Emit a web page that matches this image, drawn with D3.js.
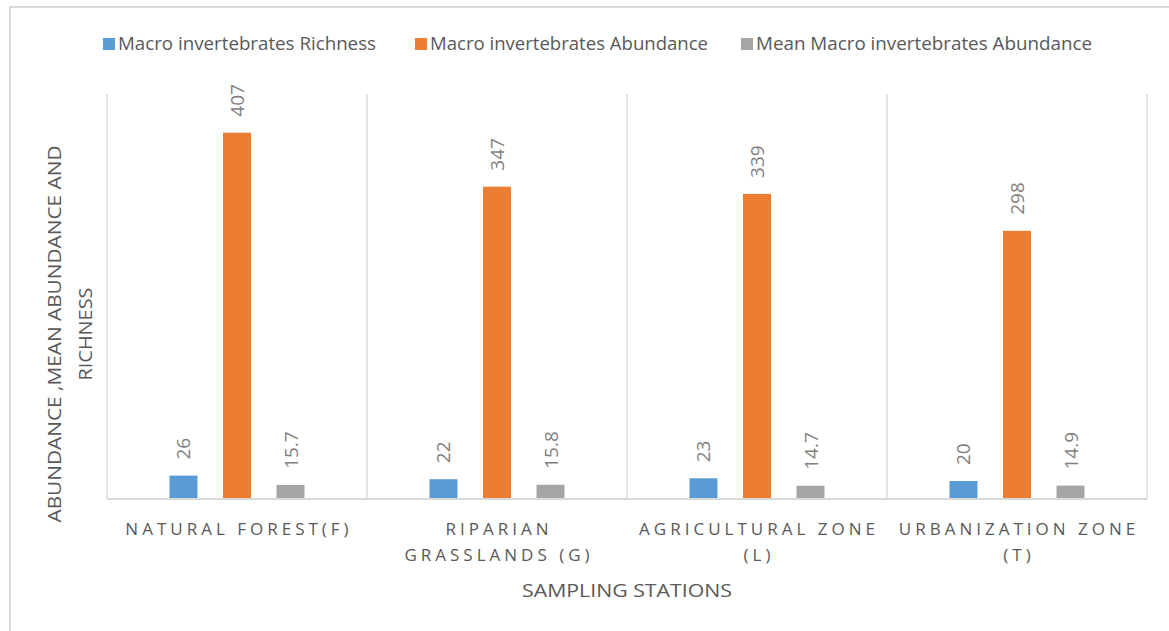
<!DOCTYPE html>
<html>
<head>
<meta charset="utf-8">
<script src="https://cdn.jsdelivr.net/npm/d3@7"></script>
<style>
  body { margin: 0; background: #fff; }
  text { font-family: "Open Sans", "Noto Sans", sans-serif; }
</style>
</head>
<body>
<div id="chart"></div>
<script>
// data
let stations = ["NATURAL FOREST(F)", "RIPARIAN GRASSLANDS (G)", "AGRICULTURAL ZONE (L)", "URBANIZATION ZONE (T)"];
let station_lines = [["NATURAL FOREST(F)"], ["RIPARIAN", "GRASSLANDS (G)"], ["AGRICULTURAL ZONE", "(L)"], ["URBANIZATION ZONE", "(T)"]];
let series_names = ["Macro invertebrates Richness", "Macro invertebrates Abundance", "Mean Macro invertebrates Abundance"];
let richness = [26, 22, 23, 20];
let abundance = [407, 347, 339, 298];
let mean_abundance = [15.7, 15.8, 14.7, 14.9];
let colors = ["#5b9bd5", "#ed7d31", "#a5a5a5"];

let width = 1169, height = 631;
let plot = {left: 107, right: 1147, top: 94, bottom: 499};

let svg = d3.select("#chart").append("svg")
  .attr("width", width)
  .attr("height", height);

// outer chart frame
svg.append("rect")
  .attr("x", 10).attr("y", 7)
  .attr("width", 1300).attr("height", 800)
  .attr("fill", "none")
  .attr("stroke", "#d9d9d9")
  .attr("stroke-width", 2);

let x0 = d3.scaleBand().domain(stations).range([plot.left, plot.right]);
let groupW = 135;
let x1 = d3.scaleBand().domain(series_names).range([0, groupW]).paddingInner(0.477);
let y = d3.scaleLinear().domain([0, 450]).range([plot.bottom, plot.top]);

// vertical separators between categories
let seps = stations.map(s => x0(s)).concat([plot.right]);
svg.selectAll(".sep")
  .data(seps).enter()
  .append("line")
  .attr("x1", d => d).attr("x2", d => d)
  .attr("y1", plot.top).attr("y2", plot.bottom)
  .attr("stroke", "#d9d9d9")
  .attr("stroke-width", 1.5);

// bars
let rows = [];
stations.forEach(function(s, i) {
  rows.push({st: s, ser: series_names[0], v: richness[i], c: colors[0]});
  rows.push({st: s, ser: series_names[1], v: abundance[i], c: colors[1]});
  rows.push({st: s, ser: series_names[2], v: mean_abundance[i], c: colors[2]});
});

function barX(d) {
  return x0(d.st) + (x0.bandwidth() - groupW) / 2 + x1(d.ser);
}

svg.selectAll(".bar")
  .data(rows).enter()
  .append("rect")
  .attr("class", "bar")
  .attr("x", barX)
  .attr("width", x1.bandwidth())
  .attr("y", d => y(d.v))
  .attr("height", d => y(0) - y(d.v))
  .attr("fill", d => d.c);

// data labels, rotated
svg.selectAll(".lbl")
  .data(rows).enter()
  .append("text")
  .attr("transform", d => "translate(" + (barX(d) + x1.bandwidth() / 2 + 7) + "," + (y(d.v) - 16) + ") rotate(-90)")
  .attr("font-size", 19)
  .attr("fill", "#7f7f7f")
  .text(d => d.v);

// baseline
svg.append("line")
  .attr("x1", plot.left).attr("x2", plot.right)
  .attr("y1", plot.bottom).attr("y2", plot.bottom)
  .attr("stroke", "#d9d9d9")
  .attr("stroke-width", 2);

// category labels
let catG = svg.selectAll(".cat")
  .data(stations).enter()
  .append("text")
  .attr("text-anchor", "middle")
  .attr("font-size", 17)
  .attr("fill", "#595959")
  .style("letter-spacing", "4px");
catG.each(function(s, i) {
  let t = d3.select(this);
  station_lines[i].forEach(function(line, j) {
    t.append("tspan")
      .attr("x", x0(s) + x0.bandwidth() / 2 + 2)
      .attr("y", 535 + j * 26)
      .text(line);
  });
});

// axis titles
svg.append("text")
  .attr("x", (plot.left + plot.right) / 2)
  .attr("y", 597)
  .attr("text-anchor", "middle")
  .attr("font-size", 18)
  .attr("fill", "#595959")
  .attr("textLength", 210)
  .attr("lengthAdjust", "spacingAndGlyphs")
  .text("SAMPLING STATIONS");

let yt = [["ABUNDANCE ,MEAN ABUNDANCE AND", 61, 377], ["RICHNESS", 92, 93]];
yt.forEach(function(r) {
  svg.append("text")
    .attr("transform", "translate(" + r[1] + ",334) rotate(-90)")
    .attr("text-anchor", "middle")
    .attr("font-size", 19)
    .attr("fill", "#595959")
    .attr("textLength", r[2])
    .attr("lengthAdjust", "spacingAndGlyphs")
    .text(r[0]);
});

// legend
let legendX = [103, 415, 741];
let legendW = [258, 278, 336];
let leg = svg.selectAll(".leg")
  .data(series_names).enter()
  .append("g")
  .attr("transform", (d, i) => "translate(" + legendX[i] + ",38)");
leg.append("rect")
  .attr("width", 12).attr("height", 12)
  .attr("fill", (d, i) => colors[i]);
leg.append("text")
  .attr("x", 15).attr("y", 12)
  .attr("font-size", 18)
  .attr("fill", "#595959")
  .attr("textLength", (d, i) => legendW[i])
  .attr("lengthAdjust", "spacingAndGlyphs")
  .text(d => d);
</script>
</body>
</html>
